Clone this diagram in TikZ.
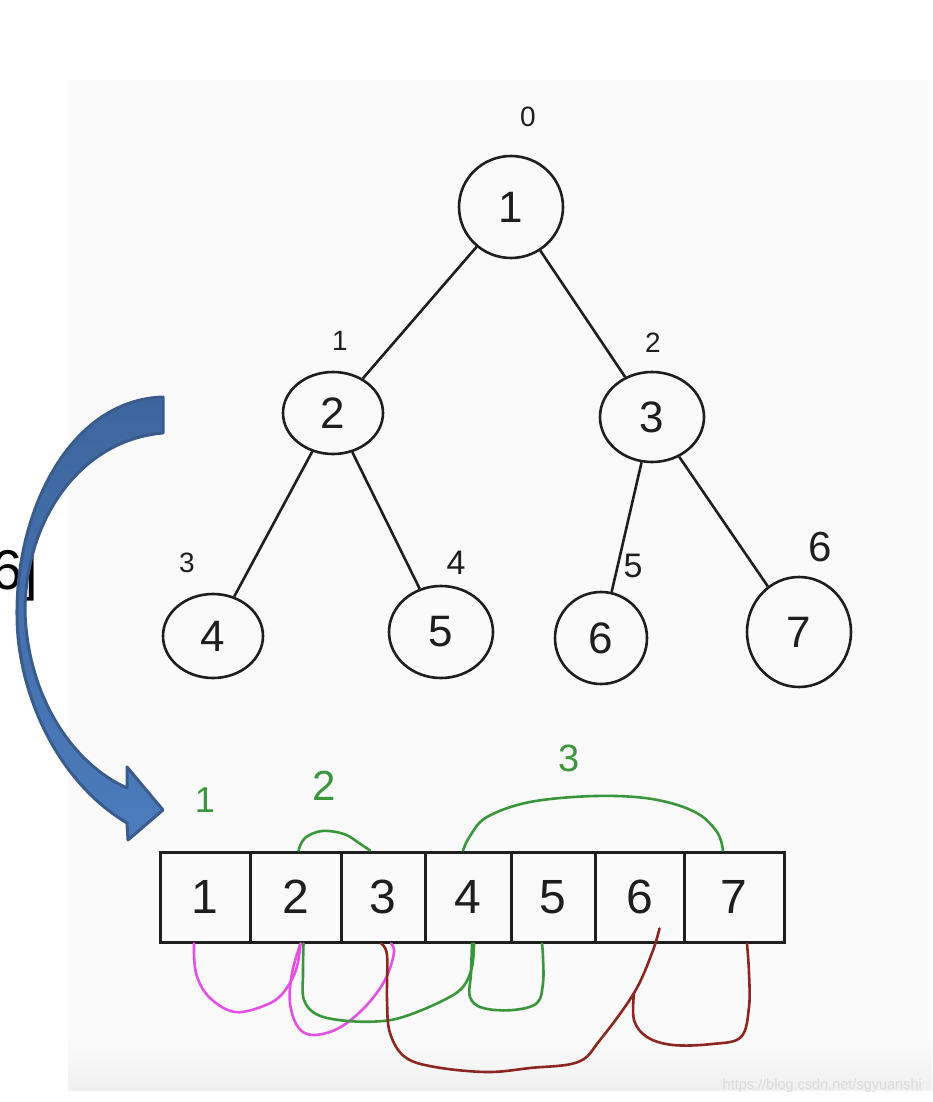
\documentclass[tikz,border=0pt]{standalone}
\usepackage{fontspec}
\setmainfont{Liberation Sans}
\usetikzlibrary{shapes.geometric}
\definecolor{hgreen}{RGB}{58,150,58}
\definecolor{hmag}{RGB}{228,80,228}
\definecolor{hred}{RGB}{140,38,32}
\definecolor{abluefill}{RGB}{76,124,188}
\definecolor{abluetop}{RGB}{62,102,158}
\definecolor{ablueedge}{RGB}{58,92,140}
\definecolor{bgpanel}{RGB}{250,250,250}
\definecolor{ink}{RGB}{30,30,30}
\begin{document}
\begin{tikzpicture}[x=1pt,y=-1pt,
  tnode/.style={draw=ink,line width=2.6pt,ellipse,inner sep=0pt,font=\fontsize{44}{44}\selectfont,text=ink},
  tedge/.style={draw=ink,line width=2.6pt},
  lab/.style={inner sep=0pt,font=\fontsize{28}{28}\selectfont,text=ink},
  cell/.style={draw=ink,line width=3pt,rectangle,inner sep=0pt,minimum height=90pt,font=\fontsize{48}{48}\selectfont,text=ink},
  glab/.style={inner sep=0pt,text=hgreen},
  hand/.style={line width=2.6pt,line cap=round,line join=round},
]
\useasboundingbox (0,0) rectangle (932,1102);
\clip (0,0) rectangle (932,1102);
% screenshot panel
\fill[bgpanel] (68,80) rectangle (932,1045);
\fill[top color=bgpanel,bottom color=black!6] (68,1044) rectangle (932,1090);
\node[anchor=base east,inner sep=0pt,font=\fontsize{14.5}{14.5}\selectfont,text=white!86!black] (wm) at (922,1089) {https://blog.csdn.net/sgyuanshi};

% tree
\node[tnode,minimum width=104pt,minimum height=102pt] (n1) at (511,207) {1};
\node[tnode,minimum width=100pt,minimum height=82pt] (n2) at (333,413) {2};
\node[tnode,minimum width=104pt,minimum height=90pt] (n3) at (652,417) {3};
\node[tnode,minimum width=100pt,minimum height=84pt] (n4) at (213,636) {4};
\node[tnode,minimum width=104pt,minimum height=92pt] (n5) at (441,632) {5};
\node[tnode,minimum width=92pt,minimum height=92pt] (n6) at (601,638) {6};
\node[tnode,minimum width=104pt,minimum height=110pt] (n7) at (799,632) {7};
\draw[tedge] (n1) -- (n2);
\draw[tedge] (n1) -- (n3);
\draw[tedge] (n2) -- (n4);
\draw[tedge] (n2) -- (n5);
\draw[tedge] (n3) -- (n6);
\draw[tedge] (n3) -- (n7);
\node[lab] (l0) at (528,117) {0};
\node[lab] (l1) at (340,341) {1};
\node[lab] (l2) at (653,343) {2};
\node[lab] (l3) at (187,563) {3};
\node[lab,font=\fontsize{34}{34}\selectfont] (l4) at (456,563) {4};
\node[lab,font=\fontsize{34}{34}\selectfont] (l5) at (633,566) {5};
\node[lab,font=\fontsize{42}{42}\selectfont] (l6) at (820,547) {6};

% array
\node[cell,minimum width=90pt] (c1) at (205,897) {1};
\node[cell,minimum width=91pt] (c2) at (295.5,897) {2};
\node[cell,minimum width=84pt] (c3) at (383,897) {3};
\node[cell,minimum width=86pt] (c4) at (468,897) {4};
\node[cell,minimum width=84pt] (c5) at (553,897) {5};
\node[cell,minimum width=89pt] (c6) at (639.5,897) {6};
\node[cell,minimum width=100pt] (c7) at (734,897) {7};

% green step labels
\node[glab,font=\fontsize{36}{36}\selectfont] (g1) at (205,800) {1};
\node[glab,font=\fontsize{42}{42}\selectfont] (g2) at (324,786) {2};
\node[glab,font=\fontsize{38}{38}\selectfont] (g3) at (569,758) {3};

% endpoints on the cells
\coordinate (c1b) at ([xshift=-11pt]c1.south);
\coordinate (c2b) at ([xshift=5pt]c2.south);
\coordinate (c2bb) at ([xshift=8pt]c2.south);
\coordinate (c3b) at ([xshift=8pt]c3.south);
\coordinate (c3bb) at ([xshift=-2pt]c3.south);
\coordinate (c4b) at ([xshift=6pt]c4.south);
\coordinate (c4bb) at ([xshift=4pt]c4.south);
\coordinate (c5b) at ([xshift=-11pt]c5.south);
\coordinate (c6in) at ([xshift=20pt,yshift=15pt]c6.south);
\coordinate (c7b) at ([xshift=13pt]c7.south);
\coordinate (rj) at (634,993);
\coordinate (c2t) at ([xshift=3pt]c2.north);
\coordinate (c3t) at ([xshift=-13pt]c3.north);
\coordinate (c4t) at ([xshift=-5pt]c4.north);
\coordinate (c7t) at ([xshift=-11pt]c7.north);

% green arcs above
\draw[hand,hgreen] plot[smooth,tension=0.6] coordinates {(c2t) (305,838) (322,831) (344,834) (359,843) (c3t)};
\draw[hand,hgreen] plot[smooth,tension=0.6] coordinates {(c4t) (470,836) (487,817) (530,802) (595,796) (652,799) (695,812) (717,832) (c7t)};

% magenta loops below
\draw[hand,hmag] plot[smooth,tension=0.6] coordinates {(c1b) (196,973) (209,997) (235,1012) (266,1005) (283,993) (296,970) (c2b)};
\draw[hand,hmag] plot[smooth,tension=0.6] coordinates {(c2b) (292,973) (290,1003) (298,1027) (313,1035) (339,1028) (365,1007) (385,980) (394,953) (c3b)};

% green loops below
\draw[hand,hgreen] plot[smooth,tension=0.6] coordinates {(c2bb) (303,973) (304,1000) (318,1015) (348,1021) (383,1021) (409,1015) (444,1000) (463,987) (472,967) (c4b)};
\draw[hand,hgreen] plot[smooth,tension=0.6] coordinates {(c4bb) (471,973) (470,997) (483,1008) (513,1010) (537,1003) (543,983) (543,957) (c5b)};

% red loops below
\draw[hand,hred] plot[smooth,tension=0.6] coordinates {(c3bb) (387,955) (387,1000) (390,1033) (405,1057) (435,1067) (487,1072) (530,1068) (578,1062) (600,1040) (rj) (652,953) (c6in)};
\draw[hand,hred] plot[smooth,tension=0.6] coordinates {(rj) (634,1020) (647,1037) (673,1045) (712,1044) (741,1037) (749,1007) (749,973) (c7b)};

% partially hidden text on the left
\node[anchor=base west,inner sep=0pt,font=\fontsize{56}{56}\selectfont] (side) at (-9,589) {6]};

% blue curved arrow
\path[draw=ablueedge,line width=3pt,line join=round,top color=abluetop,bottom color=abluefill]
  (163,397) .. controls (70,400) and (16,510) .. (17,615)
  .. controls (17,690) and (55,780) .. (127,823)
  -- (128,840) -- (163,810) -- (127,767) -- (127,788)
  .. controls (75,765) and (28,700) .. (25,612)
  .. controls (25,520) and (80,440) .. (163,433) -- cycle;
\end{tikzpicture}
\end{document}
